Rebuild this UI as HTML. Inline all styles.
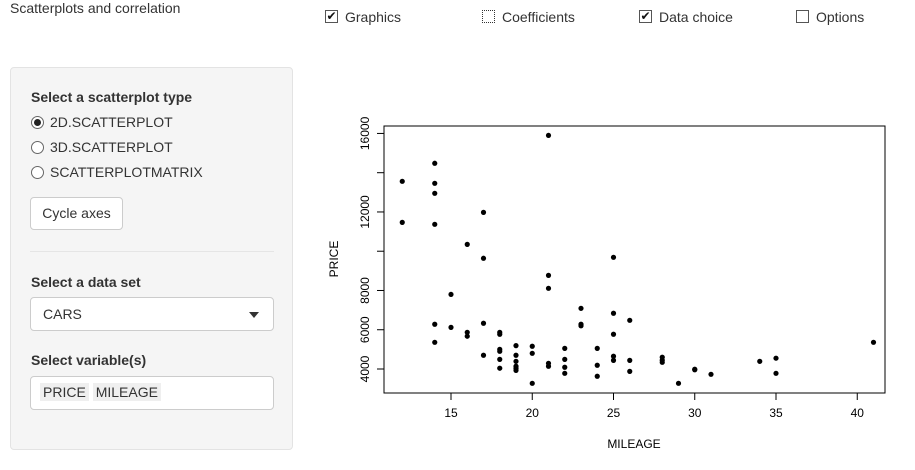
<!DOCTYPE html>
<html><head><meta charset="utf-8"><style>
body{margin:0;width:915px;height:470px;background:#fff;font-family:"Liberation Sans",sans-serif;font-size:14px;color:#333;position:relative;overflow:hidden}
.a{position:absolute}
.cb{position:absolute;top:10px;width:13px;height:13px;border:1px solid #555;box-sizing:border-box;background:#fff;font-size:12px;line-height:11px;text-align:center;color:#111}
.rad{position:absolute;left:31px;width:13px;height:13px;border:1px solid #666;border-radius:50%;box-sizing:border-box;background:#fff}
</style></head><body>
<div class="a" style="left:10px;top:0px">Scatterplots and correlation</div>
<div class="cb" style="left:325px">✔</div><div class="a" style="left:345px;top:9px">Graphics</div>
<div class="cb" style="left:482px;border:1px dotted #333">&nbsp;</div><div class="a" style="left:502px;top:9px">Coefficients</div>
<div class="cb" style="left:639px">✔</div><div class="a" style="left:659px;top:9px">Data choice</div>
<div class="cb" style="left:796px">&nbsp;</div><div class="a" style="left:816px;top:9px">Options</div>

<div class="a" style="left:10px;top:67px;width:283px;height:383px;background:#f5f5f5;border:1px solid #e3e3e3;border-radius:4px;box-sizing:border-box"></div>
<div class="a" style="left:31px;top:89px;font-weight:bold">Select a scatterplot type</div>
<div class="rad" style="top:116px"><div style="width:7px;height:7px;border-radius:50%;background:#222;margin:2px"></div></div>
<div class="a" style="left:50px;top:114px">2D.SCATTERPLOT</div>
<div class="rad" style="top:141px"></div>
<div class="a" style="left:50px;top:139px">3D.SCATTERPLOT</div>
<div class="rad" style="top:166px"></div>
<div class="a" style="left:50px;top:164px">SCATTERPLOTMATRIX</div>
<div class="a" style="left:30px;top:197px;width:93px;height:33px;border:1px solid #ccc;border-radius:4px;background:#fff;box-sizing:border-box;text-align:center;line-height:31px">Cycle axes</div>
<div class="a" style="left:30px;top:251px;width:244px;border-top:1px solid #e5e5e5"></div>
<div class="a" style="left:31px;top:274px;font-weight:bold">Select a data set</div>
<div class="a" style="left:30px;top:297px;width:244px;height:34px;border:1px solid #ccc;border-radius:4px;background:#fff;box-sizing:border-box;padding:8px 12px">CARS<div style="position:absolute;right:14px;top:14px;border-left:5px solid transparent;border-right:5px solid transparent;border-top:6px solid #333"></div></div>
<div class="a" style="left:31px;top:352px;font-weight:bold">Select variable(s)</div>
<div class="a" style="left:30px;top:376px;width:244px;height:34px;border:1px solid #ccc;border-radius:4px;background:#fff;box-sizing:border-box;padding:7px 9px">
<span style="background:#efefef;padding:1px 3px">PRICE</span> <span style="background:#efefef;padding:1px 3px">MILEAGE</span></div>

<svg class="a" style="left:0;top:0" width="915" height="470" id="chart"></svg>
<script>
const mileage=[12,12,14,14,14,14,14,14,15,15,16,16,16,17,17,17,17,18,18,18,18,18,18,19,19,19,19,19,19,20,20,20,21,21,21,21,21,22,22,22,22,23,23,23,24,24,24,25,25,25,25,25,26,26,26,28,28,28,29,30,30,31,34,35,35,41];
const price=[13560,11470,14480,13460,12950,11370,6280,5360,7800,6120,10350,5870,5670,11980,9640,6330,4700,5870,5770,5000,4900,4490,4040,5190,4700,4390,4140,4040,3930,5160,4800,3270,15900,8770,8110,4290,4140,5050,4490,4090,3780,7090,6280,6200,5050,4190,3630,9690,6840,5770,4650,4440,6480,4440,3880,4600,4450,4340,3270,3960,3990,3730,4390,4550,3780,5360];
const xTicks=[15,20,25,30,35,40];
const yTicks=[4000,6000,8000,12000,16000];
const svg=document.getElementById('chart');const NS='http://www.w3.org/2000/svg';
const X=v=>451+(v-15)*16.25;
const Y=v=>369-(v-4000)*0.01963;
function mk(t,a,txt){const e=document.createElementNS(NS,t);for(const k in a)e.setAttribute(k,a[k]);if(txt!==undefined)e.textContent=txt;svg.appendChild(e);return e;}
const box=mk('rect',{x:384,y:126,width:501,height:267,fill:'none',stroke:'#000','stroke-width':1});


mk('line',{x1:X(xTicks[0]),x2:X(xTicks[xTicks.length-1]),y1:393,y2:393,stroke:'#000'});
xTicks.forEach(v=>{mk('line',{x1:X(v),x2:X(v),y1:393,y2:400,stroke:'#000'});
const t=mk('text',{x:X(v),y:417,'text-anchor':'middle','font-size':12,fill:'#000','font-family':'Liberation Sans'},v);

});
mk('line',{x1:384,x2:384,y1:Y(yTicks[0]),y2:Y(yTicks[yTicks.length-1]),stroke:'#000'});
const yAll=[4000,6000,8000,10000,12000,14000,16000];
yAll.forEach(v=>mk('line',{x1:377,x2:384,y1:Y(v),y2:Y(v),stroke:'#000'}));
yTicks.forEach(v=>{const t=mk('text',{x:369,y:Y(v),'text-anchor':'middle','font-size':12,fill:'#000','font-family':'Liberation Sans',transform:`rotate(-90 369 ${Y(v)})`},v);

});
const xt=mk('text',{x:634,y:448,'text-anchor':'middle','font-size':12,fill:'#000','font-family':'Liberation Sans'},'MILEAGE');


const yt=mk('text',{x:338,y:259,'text-anchor':'middle','font-size':12,fill:'#000','font-family':'Liberation Sans',transform:'rotate(-90 338 259)'},'PRICE');


mileage.forEach((m,i)=>{const c=mk('circle',{cx:X(m),cy:Y(price[i]),r:2.6,fill:'#000'});

});
</script>
</body></html>
